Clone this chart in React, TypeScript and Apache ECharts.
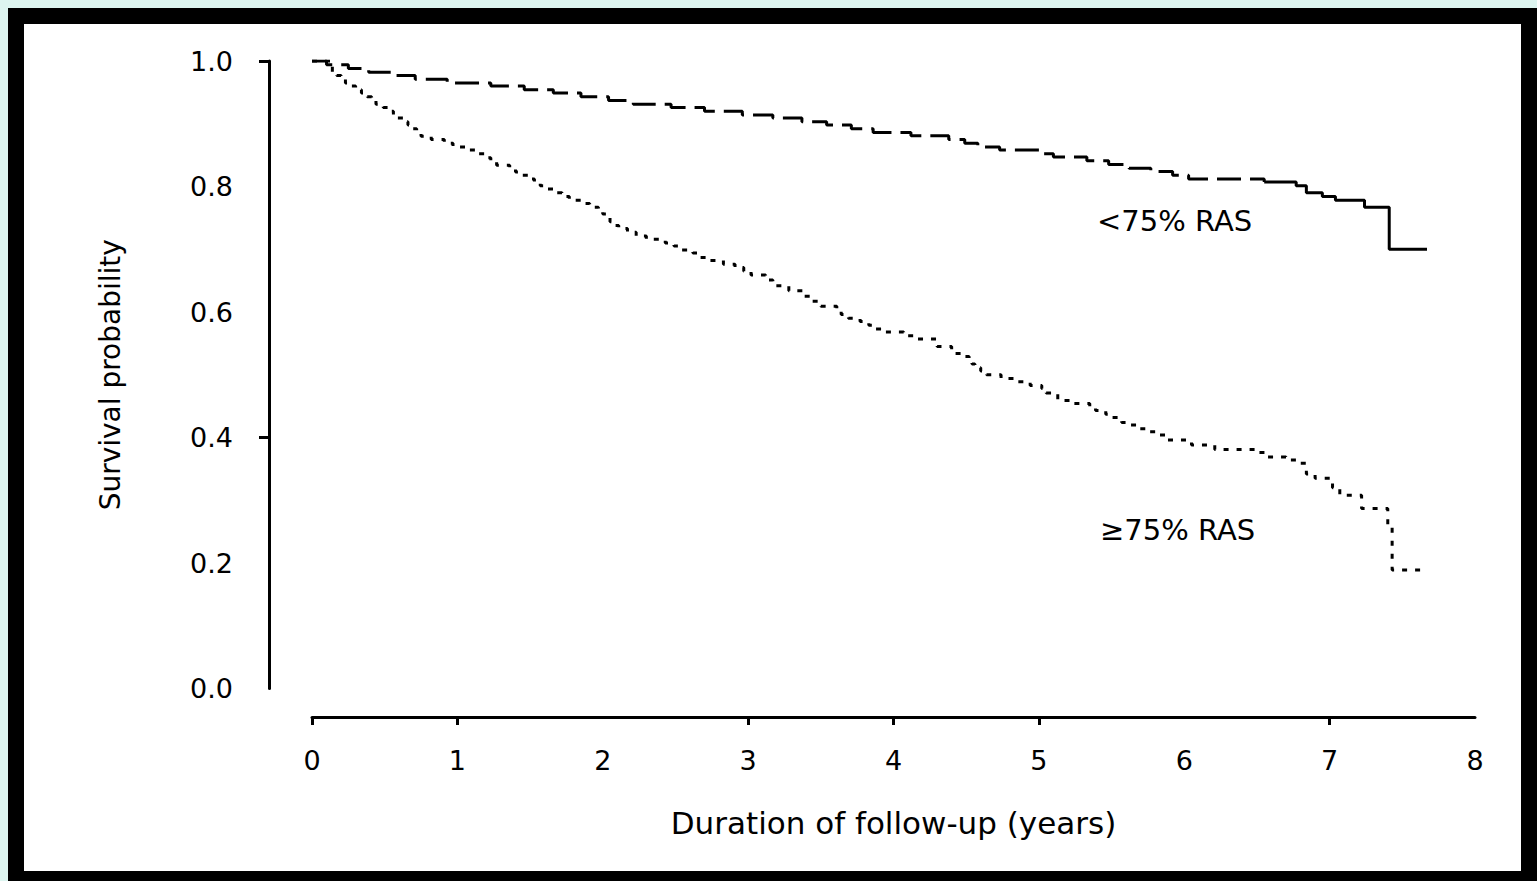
import React, { useEffect, useRef } from "react";
import * as echarts from "echarts";

// Axis ticks / labels
const xTickValues = [0, 1, 2, 3, 4, 5, 6, 7, 8];
const yTickValues = [0, 0.2, 0.4, 0.6, 0.8, 1.0];
const xTickMarks = [0, 1, 3, 4, 5, 7];
const yTickMarks = [0.4, 1.0];

const xAxisName = "Duration of follow-up (years)";
const yAxisName = "Survival probability";
const groupNames = ["<75% RAS", "≥75% RAS"];

// <75% RAS (upper curve): step start times (years) and survival
const upperT = [0, 0.10, 0.25, 0.39, 0.56, 0.71, 0.93, 1.23, 1.46, 1.66, 1.85, 2.04, 2.21, 2.47, 2.70, 2.96, 3.17, 3.37, 3.54, 3.71, 3.86, 4.12, 4.38, 4.49, 4.58, 4.73, 5.02, 5.10, 5.33, 5.48, 5.62, 5.77, 5.92, 6.03, 6.55, 6.77, 6.84, 6.95, 7.04, 7.24, 7.41, 7.67];
const upperV = [1.0, 0.994, 0.988, 0.982, 0.977, 0.971, 0.965, 0.960, 0.954, 0.949, 0.943, 0.937, 0.931, 0.926, 0.920, 0.914, 0.909, 0.903, 0.898, 0.892, 0.886, 0.881, 0.875, 0.869, 0.863, 0.858, 0.852, 0.847, 0.841, 0.835, 0.829, 0.824, 0.818, 0.812, 0.807, 0.801, 0.790, 0.784, 0.778, 0.767, 0.700, 0.700];
const upperSolidFrom = 6.55;

// ≥75% RAS (lower curve)
const lowerT = [0, 0.14, 0.17, 0.20, 0.23, 0.26, 0.30, 0.34, 0.38, 0.41, 0.44, 0.49, 0.52, 0.56, 0.59, 0.63, 0.66, 0.69, 0.72, 0.75, 0.82, 0.91, 0.97, 1.07, 1.14, 1.19, 1.23, 1.27, 1.36, 1.40, 1.44, 1.49, 1.53, 1.57, 1.62, 1.68, 1.72, 1.77, 1.85, 1.91, 1.97, 2.00, 2.03, 2.05, 2.08, 2.11, 2.17, 2.23, 2.30, 2.43, 2.49, 2.53, 2.62, 2.66, 2.71, 2.83, 2.91, 2.97, 3.02, 3.12, 3.17, 3.28, 3.38, 3.44, 3.50, 3.61, 3.64, 3.69, 3.77, 3.83, 3.88, 3.94, 4.07, 4.16, 4.30, 4.40, 4.48, 4.52, 4.54, 4.56, 4.60, 4.64, 4.74, 4.85, 4.94, 5.02, 5.05, 5.13, 5.22, 5.35, 5.39, 5.46, 5.49, 5.57, 5.62, 5.68, 5.75, 5.83, 5.88, 6.05, 6.21, 6.49, 6.57, 6.70, 6.80, 6.84, 6.90, 7.02, 7.07, 7.22, 7.40, 7.43, 7.66];
const lowerV = [1.0, 0.983, 0.977, 0.971, 0.965, 0.960, 0.954, 0.949, 0.943, 0.937, 0.931, 0.926, 0.920, 0.914, 0.909, 0.903, 0.898, 0.892, 0.886, 0.880, 0.875, 0.869, 0.863, 0.858, 0.852, 0.846, 0.841, 0.834, 0.829, 0.823, 0.818, 0.812, 0.807, 0.801, 0.796, 0.790, 0.784, 0.778, 0.773, 0.767, 0.761, 0.756, 0.750, 0.744, 0.738, 0.733, 0.727, 0.721, 0.716, 0.710, 0.705, 0.699, 0.694, 0.687, 0.682, 0.676, 0.671, 0.665, 0.659, 0.651, 0.642, 0.634, 0.625, 0.617, 0.609, 0.602, 0.596, 0.590, 0.585, 0.579, 0.573, 0.568, 0.562, 0.557, 0.545, 0.534, 0.529, 0.523, 0.517, 0.511, 0.506, 0.500, 0.494, 0.489, 0.483, 0.478, 0.471, 0.459, 0.454, 0.449, 0.443, 0.437, 0.432, 0.424, 0.420, 0.414, 0.409, 0.404, 0.396, 0.388, 0.381, 0.376, 0.369, 0.364, 0.359, 0.342, 0.335, 0.320, 0.308, 0.287, 0.261, 0.189, 0.189];

const FONT = "DejaVu Sans";

export default function App() {
  const ref = useRef<HTMLDivElement | null>(null);

  useEffect(() => {
    if (!ref.current) return;
    const chart = echarts.init(ref.current, undefined, { renderer: "svg" });

    const upperPairs = upperT.map((t, i) => [t, upperV[i]]);
    const upperDashed = upperPairs.filter((p) => p[0] <= upperSolidFrom);
    const upperSolid = upperPairs.filter((p) => p[0] >= upperSolidFrom);
    const lowerPairs = lowerT.map((t, i) => [t, lowerV[i]]);

    const option: any = {
      animation: false,
      backgroundColor: "transparent",
      textStyle: { fontFamily: FONT, color: "#000" },
      grid: { left: 312, right: 62, top: 61, bottom: 192.5, containLabel: false },
      xAxis: {
        type: "value",
        min: 0,
        max: 8,
        interval: 1,
        offset: 28.5,
        name: xAxisName,
        nameLocation: "middle",
        nameGap: 90,
        nameTextStyle: { fontFamily: FONT, fontSize: 31, color: "#000" },
        axisLine: { show: true, onZero: false, lineStyle: { color: "#000", width: 3 } },
        axisTick: { show: true, length: 8, customValues: xTickMarks, lineStyle: { color: "#000", width: 3 } },
        axisLabel: {
          fontFamily: FONT,
          fontSize: 27,
          color: "#000",
          margin: 30,
          customValues: xTickValues,
          formatter: (v: number) => String(v),
        },
        splitLine: { show: false },
      },
      yAxis: {
        type: "value",
        min: 0,
        max: 1,
        interval: 0.2,
        offset: 43,
        name: yAxisName,
        nameLocation: "middle",
        nameGap: 145,
        nameRotate: 90,
        nameTextStyle: { fontFamily: FONT, fontSize: 28, color: "#000" },
        axisLine: { show: true, onZero: false, lineStyle: { color: "#000", width: 3 } },
        axisTick: { show: true, length: 10, customValues: yTickMarks, lineStyle: { color: "#000", width: 3 } },
        axisLabel: {
          fontFamily: FONT,
          fontSize: 27,
          color: "#000",
          margin: 36,
          customValues: yTickValues,
          formatter: (v: number) => v.toFixed(1),
        },
        splitLine: { show: false },
      },
      series: [
        {
          name: groupNames[0],
          type: "line",
          step: "end",
          data: upperDashed,
          showSymbol: false,
          lineStyle: { color: "#000", width: 3, type: [24, 9] },
        },
        {
          name: groupNames[0] + " (end)",
          type: "line",
          step: "end",
          data: upperSolid,
          showSymbol: false,
          lineStyle: { color: "#000", width: 3, type: "solid" },
        },
        {
          name: groupNames[1],
          type: "line",
          step: "end",
          data: lowerPairs,
          showSymbol: false,
          lineStyle: { color: "#000", width: 3, type: [5, 8] },
        },
      ],
      graphic: [
        {
          type: "text",
          left: 1097,
          top: 206,
          style: { text: groupNames[0], font: `29px "${FONT}"`, fill: "#000" },
        },
        {
          type: "text",
          left: 1100,
          top: 515,
          style: { text: groupNames[1], font: `29px "${FONT}"`, fill: "#000" },
        },
      ],
    };

    chart.setOption(option);
    return () => chart.dispose();
  }, []);

  return (
    <div style={{ position: "fixed", left: 0, top: 0, width: 1537, height: 881, background: "#ddf5f0" }}>
      <div
        style={{
          position: "absolute",
          left: 8,
          top: 8,
          width: 1529,
          height: 873,
          boxSizing: "border-box",
          background: "#fff",
          borderStyle: "solid",
          borderColor: "#000",
          borderWidth: "16px 16px 10px 16px",
        }}
      />
      <div ref={ref} style={{ position: "absolute", left: 0, top: 0, width: 1537, height: 881 }} />
    </div>
  );
}
